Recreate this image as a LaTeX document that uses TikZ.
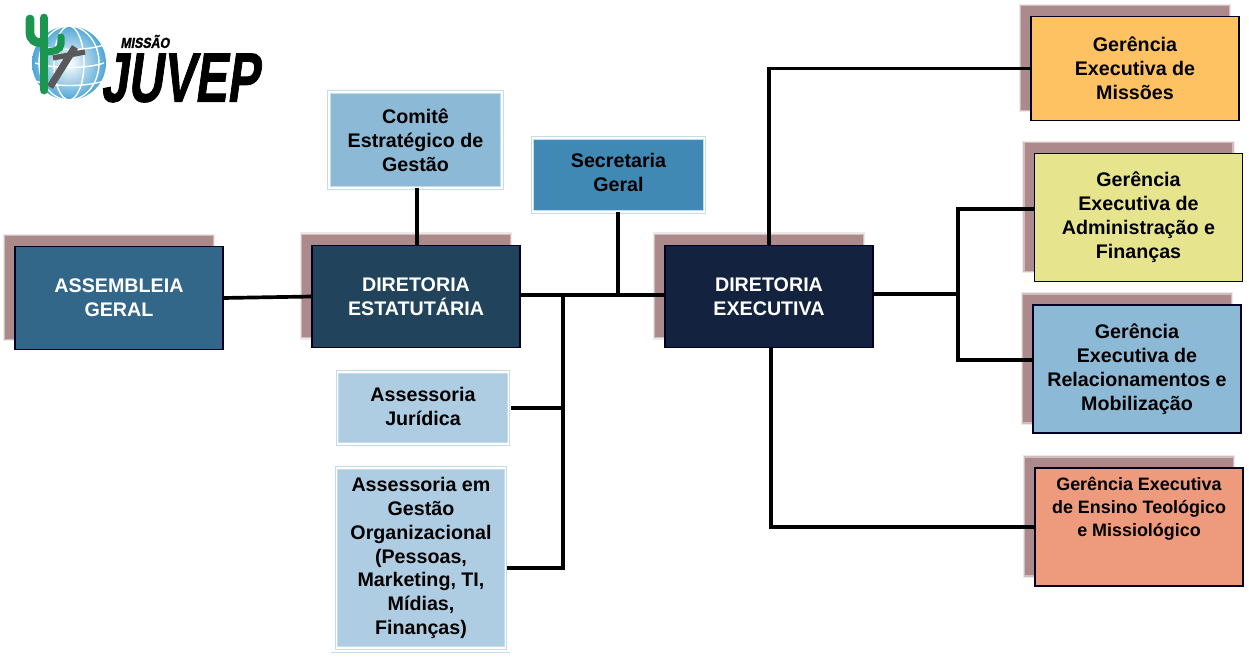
\documentclass[tikz,border=0pt]{standalone}
\usepackage{fontspec}
\setmainfont{Liberation Sans}
\newfontfamily\logofont[FakeBold=1.5]{Liberation Sans Bold}
\usetikzlibrary{shadows}
\definecolor{sombra}{HTML}{AC8A8B}
\definecolor{corAssembleia}{HTML}{33678A}
\definecolor{corEstatutaria}{HTML}{21445C}
\definecolor{corExecutiva}{HTML}{13233F}
\definecolor{corComite}{HTML}{8CB9D5}
\definecolor{corSecretaria}{HTML}{4189B5}
\definecolor{corAssessoria}{HTML}{AFCDE2}
\definecolor{corMissoes}{HTML}{FFC263}
\definecolor{corAdmin}{HTML}{E6E48C}
\definecolor{corRelac}{HTML}{8CBAD6}
\definecolor{corEnsino}{HTML}{EE9A7C}
\definecolor{cacto}{HTML}{1A9650}
\definecolor{globo}{HTML}{4FA6D6}
\begin{document}
\begin{tikzpicture}[x=0.02cm,y=-0.02cm,font=\bfseries,
	caixa/.style={rectangle,align=center,inner sep=0pt,outer sep=0pt,font=\fontsize{11.2}{13.6}\selectfont\bfseries,
		draw=black!85!blue,line width=0.7pt,
		general shadow={shadow xshift=-0.2cm,shadow yshift=0.21cm,fill=sombra,fill opacity=1,draw=sombra,draw opacity=0.2,line width=2.6pt},
		general shadow={shadow xshift=-0.2cm,shadow yshift=0.21cm,fill=sombra,fill opacity=1,draw=sombra,draw opacity=0.45,line width=1.2pt}},
	diretoria/.style={caixa,text=white,minimum width=4.16cm,minimum height=2.05cm},
	gerencia/.style={caixa,text=black,minimum width=4.16cm},
	apoio/.style={rectangle,align=center,inner sep=0pt,outer sep=0pt,text=black,font=\fontsize{11.2}{13.6}\selectfont\bfseries,
		draw=corAssessoria!70,line width=0.5pt,double=white,double distance=1.1pt},
	linha/.style={line width=2.1pt,black}]
	\useasboundingbox (0,0) rectangle (1249,669);
%	logo
	\shade[inner color=white,outer color=globo] (69,63) circle (37);
	\foreach \r in {15,30}
	\draw[white,line width=0.8pt] (69,63) ellipse ({\r} and 37);
	\foreach \y in {45,63,81}
	\draw[white,line width=0.8pt] (35,\y) .. controls (55,\y+6) and (85,\y+6) .. (104,\y);
	\draw[gray!70!black,line width=4pt] (75,47)--(50,87);
	\draw[gray!70!black,line width=3pt] (53,58)--(85,52);
	\draw[cacto,line width=5pt,line cap=round] (44,18)--(44,90);
	\draw[cacto,line width=5pt,line cap=round] (30,19)--(30,32) .. controls (30,40) and (35,43) .. (44,43);
	\draw[cacto,line width=4pt,line cap=round] (61,37)--(61,44) .. controls (61,50) and (54,52) .. (44,52);
	\node[inner sep=0pt,font=\fontsize{8.3}{8.5}\logofont,xscale=0.85,xslant=0.2,transform shape] (logoMissao) at (146,41.5) {MISSÃO};
	\node[inner sep=0pt,font=\fontsize{39.7}{40}\logofont,xscale=0.69,xslant=0.2,transform shape] (logoJuvep) at (183,78) {JUVEP};
%	caixas
	\node[diretoria,fill=corAssembleia] (assembleia) at (119,298) {ASSEMBLEIA\\GERAL};
	\node[diretoria,fill=corEstatutaria] (dirEst) at (416,296.5) {DIRETORIA\\ESTATUTÁRIA};
	\node[diretoria,fill=corExecutiva] (dirExec) at (769,296.5) {DIRETORIA\\EXECUTIVA};
	\node[apoio,fill=corComite,minimum width=3.46cm,minimum height=1.92cm] (comite) at (415.5,140) {Comitê\\Estratégico de\\Gestão};
	\node[apoio,fill=corSecretaria,minimum width=3.44cm,minimum height=1.48cm] (secretaria) at (618.5,175) {Secretaria\\Geral\\[-0.36cm]};
	\node[apoio,fill=corAssessoria,minimum width=3.42cm,minimum height=1.44cm] (juridica) at (423,408) {Assessoria\\Jurídica\\[-0.4cm]};
	\node[apoio,fill=corAssessoria,minimum width=3.38cm,minimum height=3.6cm] (gestao) at (421,558) {Assessoria em\\Gestão\\Organizacional\\(Pessoas,\\Marketing, TI,\\Mídias,\\Finanças)};
	\node[gerencia,fill=corMissoes,minimum height=2.08cm] (gerMissoes) at (1135,68.5) {Gerência\\Executiva de\\Missões};
	\node[gerencia,fill=corAdmin,minimum height=2.56cm] (gerAdmin) at (1138.5,217.5) {Gerência\\Executiva de\\Administração e\\Finanças};
	\node[gerencia,fill=corRelac,minimum height=2.56cm] (gerRelac) at (1137,369) {Gerência\\Executiva de\\Relacionamentos e\\Mobilização};
	\node[gerencia,fill=corEnsino,minimum height=2.36cm] (gerEnsino) at (1139,527) {};
	\node[align=center,inner sep=0pt,font=\fontsize{10.2}{13}\selectfont\bfseries] (txtEnsino) at (1139,509) {Gerência Executiva\\de Ensino Teológico\\e Missiológico};
	\draw[corAssessoria!70,line width=0.4pt] (331,652)--(510,652);
%	ligacoes
	\coordinate (busEst) at (563,295);
	\coordinate (busSec) at (618,295);
	\coordinate (busExec) at (958,294);
	\coordinate (forkAdmin) at (958,209);
	\coordinate (forkRelac) at (958,360);
	\coordinate (pinAdmin) at (1035,209);
	\coordinate (pinRelac) at (1033,360);
	\coordinate (pinJuridica) at (511,408);
	\coordinate (pinGestao) at (507,568);
	\coordinate (topExec) at (769,245);
	\coordinate (botExec) at (771,348);
	\coordinate (topEst) at (417,245);
	\draw[linha] (assembleia.east)--(dirEst.west);
	\draw[linha] (dirEst.east|-busEst)--(dirExec.west|-busEst);
	\draw[linha] (comite.south-|topEst)--(topEst);
	\draw[linha] (secretaria.south-|busSec)--(busSec);
	\draw[linha] (busEst)--(busEst|-pinGestao)--(pinGestao);
	\draw[linha] (pinJuridica)--(busEst|-pinJuridica);
	\draw[linha] (topExec)|-(gerMissoes.west);
	\draw[linha] (botExec)|-(gerEnsino.west);
	\draw[linha] (dirExec.east|-busExec)--(busExec);
	\draw[linha] (pinAdmin)--(forkAdmin)--(forkRelac)--(pinRelac);
\end{tikzpicture}
\end{document}
